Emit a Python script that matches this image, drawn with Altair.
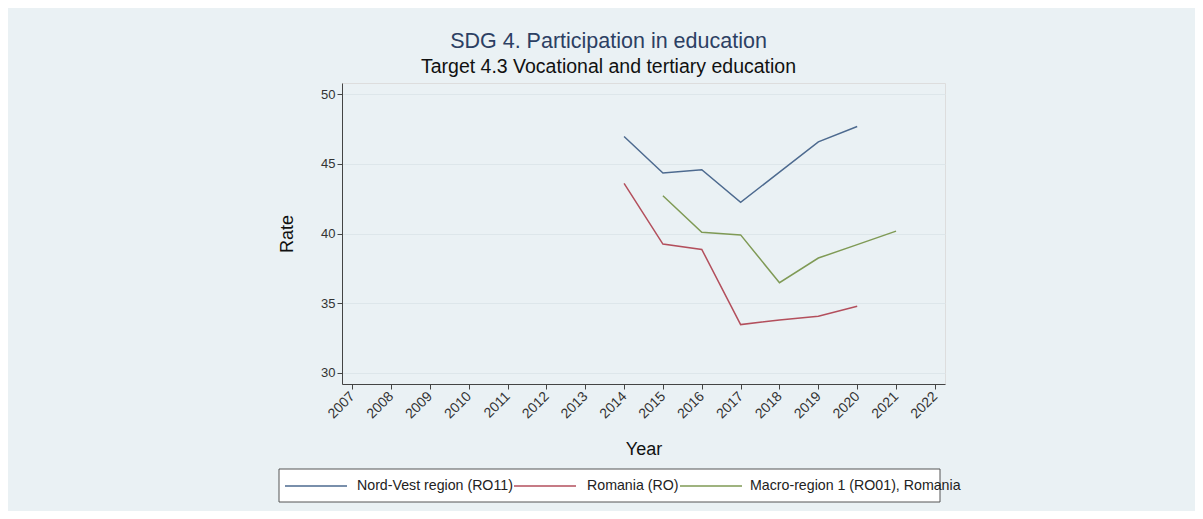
import altair as alt
import pandas as pd

years = list(range(2014, 2022))
series_names = ["Nord-Vest region (RO11)", "Romania (RO)", "Macro-region 1 (RO01), Romania"]
nord_vest = [46.95, 44.34, 44.57, 42.24, 44.4, 46.57, 47.67, None]
romania = [43.6, 39.24, 38.86, 33.47, 33.8, 34.07, 34.79, None]
macro_region = [None, 42.71, 40.09, 39.9, 36.47, 38.24, 39.2, 40.17]
x_ticks = list(range(2007, 2023))
y_ticks = [30, 35, 40, 45, 50]
colors = ["#4d6a8f", "#b34f5c", "#7f9a55"]

rows = []
for name, vals in zip(series_names, [nord_vest, romania, macro_region]):
    for yr, v in zip(years, vals):
        if v is not None:
            rows.append({"Year": yr, "Rate": v, "Series": name})
df = pd.DataFrame(rows)

FONT = "Liberation Sans"

lines = alt.Chart(df).mark_line(strokeWidth=1.5).encode(
    x=alt.X("Year:Q",
            scale=alt.Scale(domain=[2006.74, 2022.26], nice=False, zero=False),
            axis=alt.Axis(values=x_ticks, format="d", labelAngle=-45,
                          labelAlign="right", labelBaseline="middle",
                          labelFontSize=14, labelColor="#333", labelPadding=5,
                          tickSize=5, tickColor="#444", domainColor="#444",
                          grid=False, title="Year", titleFontSize=18,
                          titleFontWeight="normal", titleColor="#111",
                          titlePadding=20)),
    y=alt.Y("Rate:Q",
            scale=alt.Scale(domain=[29.21, 50.79], nice=False, zero=False),
            axis=alt.Axis(values=y_ticks, labelFontSize=13, labelColor="#333",
                          tickSize=5, tickColor="#444", domainColor="#444",
                          grid=True, gridColor="#dde6ea", gridWidth=1,
                          title="Rate", titleFontSize=18, titleFontWeight="normal",
                          titleColor="#111", titlePadding=24)),
    color=alt.Color("Series:N",
                    scale=alt.Scale(domain=series_names, range=colors),
                    legend=None),
)

# manual legend (pixel offsets relative to the plot area)
legend_y = 403
line_x = [(-57, 5), (172, 234), (338, 400)]
text_x = [15, 245, 408]

layers = [lines]
layers.append(
    alt.Chart(pd.DataFrame({"a": [0]})).mark_rect(
        fill="white", stroke="#555", strokeWidth=1
    ).encode(x=alt.value(-63), x2=alt.value(598), y=alt.value(386), y2=alt.value(419))
)
for i, name in enumerate(series_names):
    layers.append(
        alt.Chart(pd.DataFrame({"label": [name]})).mark_rule(
            color=colors[i], strokeWidth=1.5
        ).encode(x=alt.value(line_x[i][0]), x2=alt.value(line_x[i][1]), y=alt.value(legend_y))
    )
    layers.append(
        alt.Chart(pd.DataFrame({"label": [name]})).mark_text(
            align="left", baseline="middle", fontSize=14.2, color="#222", font=FONT
        ).encode(x=alt.value(text_x[i]), y=alt.value(legend_y), text="label:N")
    )

chart = alt.layer(*layers).properties(
    width=603,
    height=301,
    padding={"left": 334, "top": 75, "right": 250, "bottom": 127},
    autosize=alt.AutoSizeParams(type="none"),
    background="#eaf1f4",
    title=alt.TitleParams(
        text="SDG 4. Participation in education",
        subtitle="Target 4.3 Vocational and tertiary education",
        anchor="middle", dx=-35, fontSize=21.5, subtitleFontSize=19.5,
        fontWeight="normal", color="#2c4063", subtitleColor="#111",
        font=FONT, subtitleFont=FONT, offset=7, subtitlePadding=5,
    ),
).configure_view(
    strokeWidth=0, fill="white"
).configure(
    font=FONT
)

chart.save("out.html", embed_options={"renderer": "svg", "actions": False})
